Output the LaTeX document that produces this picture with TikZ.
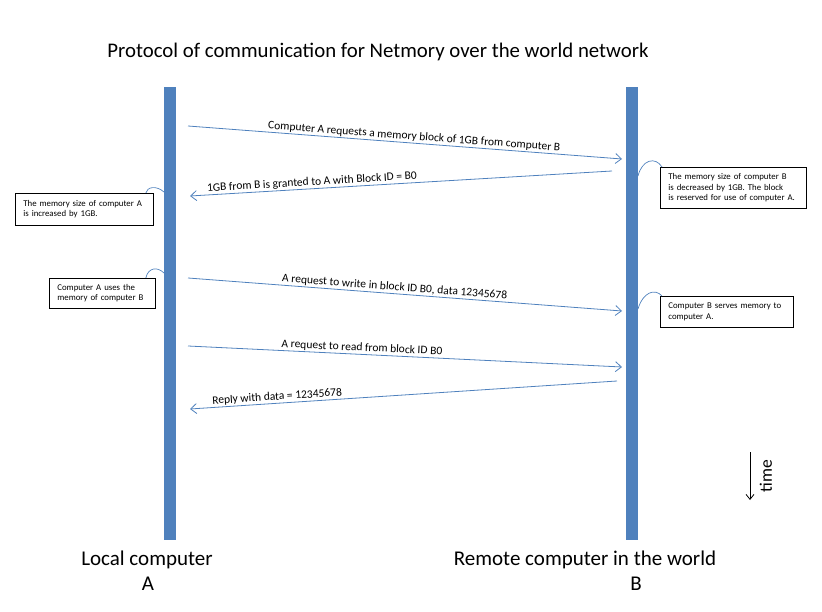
\documentclass[tikz,border=0pt]{standalone}
\usepackage{fontspec}
\setmainfont{Carlito}
\usetikzlibrary{arrows.meta}
\definecolor{barblue}{RGB}{79,129,189}
\tikzset{
  time_bar/.style={rectangle, fill=barblue, minimum width=12pt, minimum height=453pt, inner sep=0},
  msg_arrow/.style={-{Straight Barb[length=6pt, width=10pt]}, line width=0.8pt, color=barblue},
  msg_label/.style={sloped, above, inner sep=1pt, text=black, font=\fontsize{11.5}{13}\selectfont},
  note_box/.style={draw, black, line width=0.8pt, align=left, anchor=north west, inner xsep=8pt, inner ysep=2pt, font=\fontsize{8.8}{10.5}\selectfont},
  callout_line/.style={-, line width=0.7pt, color=barblue},
  time_arrow/.style={-{Straight Barb[length=5pt, width=8pt]}, line width=0.8pt, black},
  big_label/.style={font=\fontsize{21}{24}\selectfont}}

\begin{document}
\begin{tikzpicture}[x=1pt, y=-1pt]
\useasboundingbox (0,0) rectangle (822,612);

\node[font=\fontsize{20.8}{24}\selectfont] at (378,52) (title) {Protocol of communication for Netmory over the world network};

%% Bars
\node[time_bar, anchor=north] at (170,87) (barA) {};
\node[time_bar, anchor=north] at (632,87) (barB) {};

\node[big_label] at (147,560) (localA) {Local computer};
\node[big_label] at (148,584) (localB) {A};
\node[big_label] at (585,560) (remoteA) {Remote computer in the world};
\node[big_label] at (636,584) (remoteB) {B};

%% Messages
\coordinate (m1s) at (188,126);
\coordinate (m1e) at (622,159);
\coordinate (m2s) at (612,171);
\coordinate (m2e) at (190,196);
\coordinate (m3s) at (188,278);
\coordinate (m3e) at (622,311);
\coordinate (m4s) at (188,346);
\coordinate (m4e) at (622,367);
\coordinate (m5s) at (617,381);
\coordinate (m5e) at (190,409);

\draw[msg_arrow] (m1s) -- node[msg_label, pos=0.52] {Computer A requests a memory block of 1GB from computer B} (m1e);
\draw[msg_arrow] (m2s) -- node[msg_label, pos=0.71] {1GB from B is granted to A with Block ID = B0} (m2e);
\draw[msg_arrow] (m3s) -- node[msg_label, pos=0.475] {A request to write in block ID B0, data 12345678} (m3e);
\draw[msg_arrow] (m4s) -- node[msg_label, pos=0.40] {A request to read from block ID B0} (m4e);
\draw[msg_arrow] (m5s) -- node[msg_label, pos=0.795] {Reply with data = 12345678} (m5e);

%% Notes
\node[note_box, text width=122pt, minimum height=32pt] at (15,193) (noteA1) {The memory size of computer A\\is increased by 1GB.};
\node[note_box, text width=90pt, minimum height=30pt] at (49,278) (noteA2) {Computer A uses the\\memory of computer B};
\node[note_box, text width=130pt, minimum height=41pt] at (660,167) (noteB1) {The memory size of computer B\\is decreased by 1GB. The block\\is reserved for use of computer A.};
\node[note_box, text width=117pt, minimum height=31pt] at (660,296) (noteB2) {Computer B serves memory to\\computer A.};

\coordinate (cA1) at (164,192);
\coordinate (cA2) at (164,273);
\coordinate (cB1) at (638,176);
\coordinate (cB2) at (638,309);

\draw[callout_line] ([xshift=-8pt]noteA1.north east) .. controls (147,187) and (156,185) .. (cA1);
\draw[callout_line] ([xshift=-10pt]noteA2.north east) .. controls (148,268) and (157,266) .. (cA2);
\draw[callout_line] (cB1) .. controls (642,160) and (655,156) .. ([xshift=2pt]noteB1.north west);
\draw[callout_line] (cB2) .. controls (643,292) and (655,288) .. ([xshift=2pt]noteB2.north west);

%% Time
\coordinate (t_top) at (750,452);
\coordinate (t_bot) at (750,500);
\draw[time_arrow] (t_top) -- (t_bot);
\node[rotate=90, font=\fontsize{17.5}{20}\selectfont] at (766,476) (timeL) {time};

\end{tikzpicture}
\end{document}
